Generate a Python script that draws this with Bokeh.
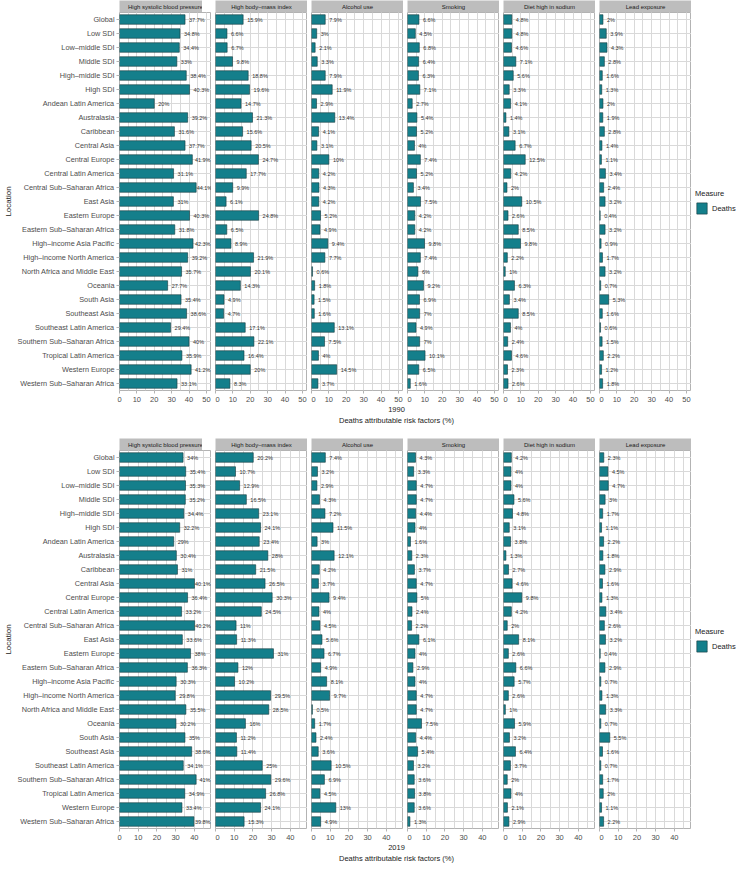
from bokeh.plotting import figure
from bokeh.models import (FactorRange, Range1d, SingleIntervalTicker, Legend,
                          LegendItem, Label, ColumnDataSource)
from bokeh.layouts import row, column
from bokeh.embed import file_html
from bokeh.resources import INLINE
from bokeh.core.properties import value

locations = [
    "Global", "Low SDI", "Low–middle SDI", "Middle SDI", "High–middle SDI", "High SDI",
    "Andean Latin America", "Australasia", "Caribbean", "Central Asia", "Central Europe",
    "Central Latin America", "Central Sub–Saharan Africa", "East Asia", "Eastern Europe",
    "Eastern Sub–Saharan Africa", "High–income Asia Pacific", "High–income North America",
    "North Africa and Middle East", "Oceania", "South Asia", "Southeast Asia",
    "Southeast Latin America", "Southern Sub–Saharan Africa", "Tropical Latin America",
    "Western Europe", "Western Sub–Saharan Africa",
]

risk_factors = ["High systolic blood pressure", "High body–mass index", "Alcohol use",
                "Smoking", "Diet high in sodium", "Lead exposure"]

# 1990
hsbp_1990 = [37.7, 34.8, 34.4, 33, 38.4, 40.3, 20, 39.2, 31.6, 37.7, 41.9, 31.1, 44.1, 31,
             40.3, 31.8, 42.3, 39.2, 35.7, 27.7, 35.4, 38.6, 29.4, 40, 35.9, 41.2, 33.1]
hbmi_1990 = [15.9, 6.6, 6.7, 9.8, 18.8, 19.6, 14.7, 21.3, 15.6, 20.5, 24.7, 17.7, 9.9, 6.1,
             24.8, 6.5, 8.9, 21.9, 20.1, 14.3, 4.9, 4.7, 17.1, 22.1, 16.4, 20, 8.3]
alcohol_1990 = [7.9, 3, 2.1, 3.3, 7.9, 11.9, 2.9, 13.4, 4.1, 3.1, 10, 4.2, 4.3, 4.2, 5.2,
                4.9, 9.4, 7.7, 0.6, 1.8, 1.5, 1.6, 13.1, 7.5, 4, 14.5, 3.7]
smoking_1990 = [6.6, 4.5, 6.8, 6.4, 6.3, 7.1, 2.7, 5.4, 5.2, 4, 7.4, 5.2, 3.4, 7.5, 4.2,
                4.2, 9.8, 7.4, 6, 9.2, 6.9, 7, 4.9, 7, 10.1, 6.5, 1.6]
sodium_1990 = [4.8, 4.8, 4.6, 7.1, 5.6, 3.3, 4.1, 1.4, 3.1, 6.7, 12.5, 4.2, 2, 10.5, 2.6,
               8.5, 9.8, 2.2, 1, 6.3, 3.4, 8.5, 4, 2.4, 4.6, 2.3, 2.6]
lead_1990 = [2, 3.9, 4.3, 2.8, 1.6, 1.3, 2, 1.9, 2.8, 1.4, 1.1, 3.4, 2.4, 3.2, 0.4, 3.2,
             0.9, 1.7, 3.2, 0.7, 5.3, 1.6, 0.6, 1.5, 2.2, 1.2, 1.8]

# 2019
hsbp_2019 = [34, 35.4, 35.3, 35.2, 34.4, 32.2, 29, 30.4, 31, 40.1, 36.4, 33.2, 40.2, 33.6,
             38, 36.3, 30.3, 29.8, 35.5, 30.2, 35, 38.6, 34.1, 41, 34.9, 33.4, 39.8]
hbmi_2019 = [20.2, 10.7, 12.9, 16.5, 23.1, 24.1, 23.4, 28, 21.5, 26.5, 30.3, 24.5, 11, 11.3,
             31, 12, 10.2, 29.5, 28.5, 16, 11.2, 11.4, 25, 29.6, 26.8, 24.1, 15.3]
alcohol_2019 = [7.4, 3.2, 2.9, 4.3, 7.2, 11.5, 3, 12.1, 4.2, 3.7, 9.4, 4, 4.5, 5.6, 6.7,
                4.9, 8.1, 9.7, 0.5, 1.7, 2.4, 3.6, 10.5, 6.9, 4.5, 13, 4.9]
smoking_2019 = [4.3, 3.3, 4.7, 4.7, 4.4, 4, 1.6, 2.3, 3.7, 4.7, 5, 2.4, 2.2, 6.1, 4, 2.9,
                4, 4.7, 4.7, 7.5, 4.4, 5.4, 3.2, 3.6, 3.8, 3.6, 1.3]
sodium_2019 = [4.2, 4, 4, 5.6, 4.8, 3.1, 3.8, 1.3, 2.7, 4.6, 9.8, 4.2, 2, 8.1, 2.6, 6.6,
               5.7, 2.6, 1, 5.9, 3.2, 6.4, 3.7, 2, 4, 2.1, 2.9]
lead_2019 = [2.3, 4.5, 4.7, 3, 1.7, 1.1, 2.2, 1.8, 2.9, 1.6, 1.3, 3.4, 2.6, 3.2, 0.4, 2.9,
             0.7, 1.3, 3.3, 0.7, 5.5, 1.6, 0.7, 1.7, 2, 1.1, 2.2]

years = ["1990", "2019"]
series_1990 = [hsbp_1990, hbmi_1990, alcohol_1990, smoking_1990, sodium_1990, lead_1990]
series_2019 = [hsbp_2019, hbmi_2019, alcohol_2019, smoking_2019, sodium_2019, lead_2019]

FONT = "Liberation Sans"
TEAL = "#147F8B"
EDGE = "#16393D"
GRID = "#D9D9D9"
STRIP = "#BDBDBD"
LEFT = 110
FW = 92
FH = 378
SH = 12
AXH = 14
GAP = 4
LABEL_PX = 5.5
CHAR_EM = {".": 0.278, "%": 0.889}


def label_width(text):
    return LABEL_PX * sum(CHAR_EM.get(ch, 0.556) for ch in text)


def bare(fig):
    fig.axis.visible = False
    fig.grid.visible = False
    fig.outline_line_color = None
    return fig


def make_strip(name, first):
    s = figure(frame_width=FW, frame_height=SH, x_range=Range1d(0, 1), y_range=Range1d(0, 1),
               min_border_left=LEFT if first else 0, min_border_right=0,
               min_border_top=0, min_border_bottom=0,
               output_backend="svg", toolbar_location=None)
    bare(s)
    s.background_fill_color = STRIP
    s.add_layout(Label(x=0.5, y=0.5, text=name, text_align="center", text_baseline="middle",
                       text_font=FONT, text_font_size="6px", text_color="#1A1A1A"))
    return s


def make_source(vals, xmax):
    labs = [f"{v:g}%" for v in vals]
    ppu = FW / xmax
    # keep the label gap small when the label would run past the panel edge
    offs = [max(0.5, min(4.0, FW - 1 - label_width(t) - v * ppu)) for v, t in zip(vals, labs)]
    return ColumnDataSource(dict(loc=locations, val=vals, lab=labs, off=offs))


def make_panel(vals, xmax, first):
    p = figure(
        y_range=FactorRange(factors=locations[::-1], range_padding=0),
        x_range=Range1d(0, xmax),
        frame_width=FW, frame_height=FH,
        min_border_left=LEFT if first else 0, min_border_right=0,
        min_border_top=0, min_border_bottom=0,
        output_backend="svg", toolbar_location=None,
    )
    src = make_source(vals, xmax)
    p.hbar(y="loc", left=0, right="val", height=0.68, source=src,
           fill_color=TEAL, line_color=EDGE, line_width=0.6)
    p.text(x="val", y="loc", text="lab", source=src, x_offset="off",
           text_align="left", text_baseline="middle", text_font_size=f"{LABEL_PX}px",
           text_color="#333333", text_font=value(FONT))

    p.outline_line_color = "#B3B3B3"
    p.xgrid.grid_line_color = GRID
    p.xgrid.minor_grid_line_color = GRID
    p.ygrid.grid_line_color = GRID

    xa = p.xaxis[0]
    xa.ticker = SingleIntervalTicker(interval=10, num_minor_ticks=2)
    xa.major_label_text_font = FONT
    xa.major_label_text_font_size = "7.5px"
    xa.major_label_text_color = "#4D4D4D"
    xa.axis_line_color = None
    xa.major_tick_line_color = "#B3B3B3"
    xa.major_tick_out = 3
    xa.major_tick_in = 0
    xa.minor_tick_line_color = None
    xa.major_label_standoff = 2

    ya = p.yaxis[0]
    if first:
        ya.axis_label = "Location"
        ya.axis_label_text_font = FONT
        ya.axis_label_text_font_size = "8px"
        ya.axis_label_text_font_style = "normal"
        ya.axis_label_text_color = "#1A1A1A"
        ya.axis_label_standoff = 2
        ya.major_label_text_font = FONT
        ya.major_label_text_font_size = "7.3px"
        ya.major_label_text_color = "#4D4D4D"
        ya.axis_line_color = None
        ya.major_tick_line_color = "#B3B3B3"
        ya.major_tick_out = 3
        ya.major_tick_in = 0
        ya.major_label_standoff = 2
    else:
        ya.visible = False
    return p


def make_legend_fig(vals, xmax):
    # legend key only: the bars of this series lie outside this figure's x range
    lf = figure(width=44, height=SH + FH + AXH, x_range=Range1d(-2, -1),
                y_range=FactorRange(factors=locations[::-1], range_padding=0),
                min_border_left=0, min_border_right=0, min_border_top=0, min_border_bottom=0,
                output_backend="svg", toolbar_location=None)
    bare(lf)
    r = lf.hbar(y="loc", left=0, right="val", height=0.68, source=make_source(vals, xmax),
                fill_color=TEAL, line_color=EDGE, line_width=0.6)
    legend = Legend(items=[LegendItem(label="Deaths", renderers=[r])],
                    title="Measure", location="center_left",
                    title_text_font=FONT, title_text_font_size="7.5px",
                    title_text_color="#1A1A1A", title_text_font_style="normal",
                    label_text_font=FONT, label_text_font_size="7.5px",
                    label_text_color="#1A1A1A", glyph_width=13, glyph_height=14,
                    label_standoff=4, border_line_color=None,
                    background_fill_alpha=0, margin=0, padding=1, title_standoff=3)
    lf.add_layout(legend)
    return lf


def make_title_fig(year, height):
    tf = figure(width=LEFT + 6 * FW + 5 * GAP, height=height, x_range=Range1d(0, 1),
                y_range=Range1d(0, height), min_border_left=LEFT, min_border_right=0,
                min_border_top=0, min_border_bottom=0,
                output_backend="svg", toolbar_location=None)
    bare(tf)
    tf.add_layout(Label(x=0.5, y=height - 5, text=year, text_align="center",
                        text_baseline="middle", text_font=FONT, text_font_size="7.5px",
                        text_color="#1A1A1A"))
    tf.add_layout(Label(x=0.5, y=height - 16, text="Deaths attributable risk factors (%)",
                        text_align="center", text_baseline="middle", text_font=FONT,
                        text_font_size="7.5px", text_color="#1A1A1A"))
    return tf


blocks = []
for yi, (year, series) in enumerate(zip(years, [series_1990, series_2019])):
    xmax = max(max(s) for s in series) * 1.2
    facets = []
    for i, (name, vals) in enumerate(zip(risk_factors, series)):
        facets.append(column(make_strip(name, i == 0), make_panel(vals, xmax, i == 0),
                             spacing=0))
    facets.append(make_legend_fig(series[-1], xmax))
    blocks.append(row(*facets, spacing=GAP))
    blocks.append(make_title_fig(year, 34 if yi == 0 else 22))

layout = column(*blocks, spacing=0)

open("out.html", "w").write(file_html(layout, INLINE, "Deaths attributable risk factors"))
